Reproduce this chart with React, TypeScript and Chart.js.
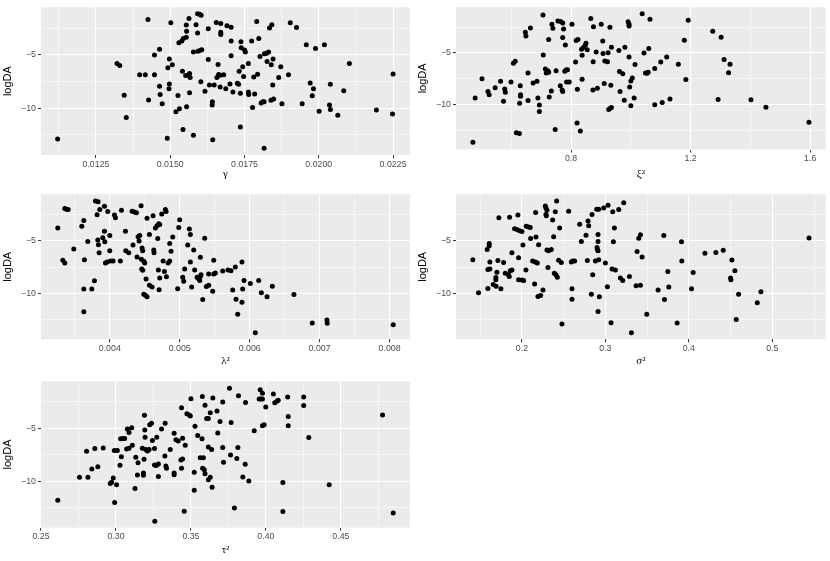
import React, { useEffect, useRef } from 'react';
import { Chart, registerables } from 'chart.js';

Chart.register(...registerables);

// ---------- shared y axis (logDA) ----------
const logDALimits = [-14.39, -0.55];
const yMajorTicks = [-10, -5];
const yTickLabels = ['−10', '−5'];
const yMinorTicks = [-12.5, -7.5, -2.5];

// ---------- panel 1: gamma ----------
const gammaX = [
  0.01121, 0.01321, 0.0133, 0.01345, 0.01352, 0.01425, 0.01397, 0.01416, 0.01447, 0.01427,
  0.01447, 0.01464, 0.01464, 0.01466, 0.01473, 0.0149, 0.01492, 0.01497, 0.01507, 0.01497,
  0.01496, 0.01502, 0.01519, 0.01531, 0.01526, 0.01529, 0.01539, 0.01544, 0.01541, 0.01543,
  0.01552, 0.01561, 0.01565, 0.01567, 0.01554, 0.01555, 0.01554, 0.01555, 0.01563, 0.01565,
  0.01578, 0.01578, 0.01593, 0.01601, 0.01606, 0.01587, 0.01592, 0.01599, 0.01604, 0.01592,
  0.01603, 0.01617, 0.01628, 0.01628, 0.01632, 0.01643,
  0.01648, 0.01641, 0.01642, 0.01655, 0.01661, 0.01657, 0.01663, 0.01668, 0.0168, 0.01668,
  0.0167, 0.0167, 0.0167, 0.01687, 0.01691, 0.01701, 0.01705, 0.01705, 0.01705, 0.01711,
  0.01726, 0.0173, 0.01732, 0.01736, 0.01736, 0.01738, 0.01739, 0.01744, 0.01747, 0.0175,
  0.01753, 0.01763, 0.01763, 0.01764, 0.01774, 0.01777, 0.01781, 0.01784, 0.01791, 0.01794,
  0.01798, 0.01802, 0.01806, 0.01811, 0.01816, 0.01816, 0.01817, 0.01824, 0.01831, 0.01826,
  0.01834, 0.01842, 0.01839, 0.01848, 0.0184, 0.01846, 0.01845, 0.01865, 0.01872, 0.01876,
  0.01898, 0.01904, 0.01925, 0.01944, 0.01958, 0.01971, 0.01978, 0.01982, 0.01989, 0.02001,
  0.02019, 0.02036, 0.02039, 0.02039, 0.02064, 0.02084, 0.02103, 0.02194, 0.02248, 0.0225,
];
const gammaY = [
  -12.88, -5.82, -6.0, -8.79, -10.88, -1.7, -6.88, -6.88, -6.88, -9.24,
  -5.03, -4.48, -7.94, -8.73, -9.6, -12.82, -6.21, -5.39, -5.94, -7.73,
  -8.18, -2.0, -10.33, -10.06, -8.82, -3.88, -3.7, -3.48, -6.55, -12.0,
  -6.94, -6.91, -6.76, -7.12, -3.36, -2.79, -2.21, -9.88, -1.61, -8.55,
  -12.55, -4.73, -4.67, -4.58, -4.52, -2.18, -1.15, -1.21, -1.3, -2.97,
  -7.52, -8.42, -2.55, -5.45, -7.82, -12.97,
  -7.82, -9.7, -9.39, -1.97, -5.91, -7.12, -6.85, -6.91, -6.88, -8.03,
  -2.06, -2.88, -3.09, -8.18, -2.27, -7.73, -2.42, -3.7, -5.09, -8.48,
  -7.67, -7.76, -6.55, -8.61, -11.76, -3.79, -4.33, -6.12, -7.03, -4.55,
  -4.73, -5.82, -8.48, -8.73, -3.7, -9.94, -7.09, -8.67, -1.88, -6.82,
  -3.48, -5.15, -9.52, -9.39, -9.39, -13.76, -4.91, -4.85, -4.73, -5.64,
  -2.48, -2.18, -9.27, -9.15, -5.94, -5.39, -7.82, -7.12, -6.12, -9.58,
  -6.88, -2.0, -2.45, -9.58, -4.06, -7.64, -8.85, -8.18, -4.42, -10.3,
  -4.06, -9.7, -10.12, -7.76, -10.67, -8.36, -5.82, -10.18, -10.55, -6.79,
];
const gammaMajorTicks = [0.0125, 0.015, 0.0175, 0.02, 0.0225];
const gammaTickLabels = ['0.0125', '0.0150', '0.0175', '0.0200', '0.0225'];
const gammaMinorTicks = [0.01125, 0.01375, 0.01625, 0.01875, 0.02125];
const gammaLimits = [0.01065, 0.02307];

// ---------- panel 2: xi^2 ----------
const xi2X = [
  0.4715, 0.479, 0.502, 0.522, 0.526, 0.546, 0.564, 0.574, 0.578, 0.58,
  0.599, 0.607, 0.613, 0.617, 0.627, 0.628, 0.63, 0.631, 0.631, 0.647,
  0.649, 0.656, 0.656, 0.664, 0.673, 0.686, 0.689, 0.694, 0.694, 0.706,
  0.707, 0.714, 0.717, 0.722, 0.725, 0.725, 0.727, 0.734, 0.736, 0.739,
  0.747, 0.75, 0.756, 0.765, 0.772, 0.764, 0.77, 0.772, 0.772, 0.775,
  0.781, 0.779, 0.783, 0.788, 0.785, 0.794, 0.803, 0.815, 0.817, 0.823,
  0.82, 0.821, 0.831, 0.835, 0.842, 0.848, 0.854, 0.837, 0.837, 0.85,
  0.866, 0.873, 0.888, 0.875, 0.874, 0.884, 0.901, 0.906, 0.907, 0.911,
  0.913, 0.922, 0.924, 0.926, 0.931, 0.935, 0.93, 0.933, 0.935, 0.96,
  0.962, 0.973, 0.964, 0.978, 0.98, 0.991, 0.994, 0.994, 0.994, 0.996,
  1.0, 1.005, 1.0, 1.011, 1.014, 1.038, 1.044, 1.049, 1.054, 1.058,
  1.06, 1.064, 1.08, 1.08, 1.1, 1.105, 1.12, 1.131, 1.159, 1.179,
  1.184, 1.192, 1.274, 1.292, 1.302, 1.312, 1.327, 1.332, 1.402, 1.452,
  1.596,
];
const xi2Y = [
  -13.69, -9.38, -7.5, -8.75, -9.06, -8.38, -7.75, -9.69, -8.5, -8.81,
  -7.81, -6.0, -5.81, -12.75, -12.84, -9.88, -8.19, -9.06, -9.22, -2.97,
  -3.34, -6.94, -9.63, -2.56, -7.91, -7.75, -9.38, -10.06, -10.69, -1.31,
  -5.19, -6.56, -6.94, -6.72, -6.88, -3.69, -9.28, -8.69, -2.19, -2.59,
  -12.44, -6.72, -1.88, -1.94, -2.09, -8.19, -8.59, -8.75, -3.5, -2.66,
  -4.22, -6.78, -6.66, -6.63, -7.81, -7.81, -2.19, -5.88, -3.78, -3.69,
  -11.81, -8.53, -12.59, -4.63, -4.44, -4.22, -4.69, -5.22, -7.56, -4.06,
  -1.63, -8.59, -8.44, -2.44, -5.84, -4.91, -2.19, -3.84, -5.06, -7.97,
  -5.78, -5.84, -4.97, -10.5, -10.38, -10.31, -2.5, -8.13, -4.44, -4.75,
  -6.81, -7.03, -8.75, -9.59, -4.44, -1.97, -2.19, -2.38, -5.38, -8.31,
  -7.72, -7.44, -10.13, -9.38, -6.13, -1.19, -5.0, -6.94, -6.97, -6.88,
  -4.56, -1.72, -6.5, -10.03, -5.88, -9.81, -5.38, -9.47, -6.09, -3.75,
  -7.59, -1.81, -2.88, -9.53, -3.47, -5.63, -6.91, -6.09, -9.56, -10.28,
  -11.75,
];
const xi2MajorTicks = [0.8, 1.2, 1.6];
const xi2TickLabels = ['0.8', '1.2', '1.6'];
const xi2MinorTicks = [0.6, 1.0, 1.4];
const xi2Limits = [0.415, 1.652];

// ---------- panel 3: lambda^2 ----------
const lambda2X = [
  0.003257, 0.003357, 0.003381, 0.003405, 0.003329, 0.003357, 0.003486, 0.0036, 0.003629, 0.003638,
  0.003629, 0.003743, 0.003629, 0.003686, 0.003781, 0.003795, 0.003833, 0.003819, 0.003829, 0.003838,
  0.003848, 0.003857, 0.0039, 0.003924, 0.003924, 0.003929, 0.003938, 0.003962, 0.003971, 0.004,
  0.004, 0.00401, 0.004048, 0.004067, 0.004081, 0.004152, 0.004167, 0.004224, 0.004229, 0.004271,
  0.004319, 0.004352, 0.004381, 0.004333, 0.00439, 0.004405, 0.004429, 0.004419, 0.004448, 0.004452,
  0.004486, 0.004462, 0.004471, 0.004457, 0.004471, 0.004486, 0.00451, 0.004533, 0.0045, 0.004519,
  0.004533, 0.004567, 0.004567, 0.004605, 0.004619, 0.004629, 0.004633, 0.004652, 0.004676, 0.0047,
  0.004714, 0.004686, 0.004695, 0.004705, 0.004714, 0.004743, 0.004762, 0.004781, 0.004795, 0.004805,
  0.00481, 0.004833, 0.004857, 0.004857, 0.004876, 0.0049, 0.004971, 0.004986, 0.005, 0.005043,
  0.005057, 0.005071, 0.005114, 0.005138, 0.005152, 0.005152, 0.005171, 0.0052, 0.005214, 0.005248,
  0.005271, 0.005286, 0.005295, 0.005305, 0.005295, 0.005329, 0.005357, 0.005381, 0.005414, 0.005414,
  0.005471, 0.005486, 0.005486, 0.005509, 0.005614, 0.00569, 0.005733, 0.005757, 0.005795, 0.005805,
  0.005829, 0.00589, 0.00589, 0.0059, 0.005919, 0.00601, 0.006081, 0.006129, 0.006167, 0.006248,
  0.006324, 0.006633, 0.006895, 0.007105, 0.007109, 0.008052,
];
const lambda2Y = [
  -3.77, -1.91, -1.98, -2.01, -6.85, -7.1, -5.77, -3.61, -3.06, -6.79,
  -9.6, -9.6, -11.76, -5.06, -8.8, -1.2, -1.27, -2.5, -4.91, -5.37,
  -6.14, -2.01, -4.69, -1.7, -4.07, -5.09, -7.1, -7.01, -2.19, -4.48,
  -5.93, -6.91, -6.91, -2.53, -2.78, -6.91, -2.07, -4.07, -5.93, -6.14,
  -2.16, -2.25, -2.31, -5.4, -6.54, -4.6, -4.48, -5.0, -1.64, -6.76,
  -6.94, -5.68, -5.93, -7.69, -7.81, -10.09, -10.19, -10.34, -7.1, -8.64,
  -2.84, -4.38, -9.23, -9.41, -2.59, -5.86, -6.14, -3.77, -3.55, -3.36,
  -3.43, -4.78, -7.78, -9.66, -8.55, -2.44, -6.91, -7.93, -2.01, -2.19,
  -8.43, -7.1, -6.91, -5.25, -5.99, -4.63, -9.57, -3.73, -2.99, -8.46,
  -8.86, -7.69, -5.4, -3.86, -4.38, -7.01, -9.41, -5.86, -7.78, -8.46,
  -8.61, -8.77, -8.4, -8.24, -6.57, -10.59, -4.75, -9.35, -9.23, -8.15,
  -9.81, -6.85, -8.15, -8.06, -7.87, -7.78, -7.84, -9.69, -7.5, -10.56,
  -12.01, -7.01, -10.86, -9.6, -8.77, -9.07, -13.77, -8.77, -9.94, -10.34,
  -9.32, -10.12, -12.84, -12.56, -12.87, -13.0,
];
const lambda2MajorTicks = [0.004, 0.005, 0.006, 0.007, 0.008];
const lambda2TickLabels = ['0.004', '0.005', '0.006', '0.007', '0.008'];
const lambda2MinorTicks = [0.0035, 0.0045, 0.0055, 0.0065, 0.0075];
const lambda2Limits = [0.003017, 0.008292];

// ---------- panel 4: sigma^2 ----------
const sigma2X = [
  0.1412, 0.148, 0.1584, 0.1608, 0.1608, 0.1592, 0.1616, 0.1592, 0.1616, 0.1656,
  0.169, 0.1688, 0.1688, 0.17, 0.1712, 0.1724, 0.1748, 0.178, 0.18, 0.184,
  0.1848, 0.186, 0.188, 0.1852, 0.188, 0.1912, 0.194, 0.1952, 0.196, 0.196,
  0.2, 0.202, 0.1972, 0.2, 0.2012, 0.2048, 0.2052, 0.208, 0.21, 0.2104,
  0.2128, 0.216, 0.2184, 0.2152, 0.2164, 0.2168, 0.2192, 0.2224, 0.22, 0.2252,
  0.228, 0.2288, 0.23, 0.2288, 0.2292, 0.23, 0.232, 0.2352, 0.2312, 0.2368,
  0.238, 0.2388, 0.2408, 0.2424, 0.24, 0.2416, 0.2452, 0.244, 0.2472, 0.248,
  0.256, 0.2592, 0.2608, 0.2632, 0.26, 0.26, 0.2692, 0.2712, 0.2768, 0.2784,
  0.2792, 0.28, 0.284, 0.2832, 0.2848, 0.288, 0.2896, 0.292, 0.29, 0.2904,
  0.2912, 0.2912, 0.2912, 0.292, 0.2912, 0.2928, 0.298, 0.3, 0.3024, 0.3032,
  0.3068, 0.308, 0.312, 0.3088, 0.3096, 0.3108, 0.316, 0.318, 0.3208, 0.322,
  0.3288, 0.3312, 0.3368, 0.342, 0.338, 0.34, 0.342, 0.344, 0.3496, 0.3632,
  0.37, 0.3708, 0.3748, 0.376, 0.386, 0.3912, 0.3916, 0.4032, 0.4052, 0.4192,
  0.4324, 0.4412, 0.45, 0.4504, 0.4516, 0.4552, 0.4568, 0.4596, 0.482, 0.4864,
  0.544,
];
const sigma2Y = [
  -6.79, -9.94, -5.83, -5.25, -5.46, -7.72, -7.69, -9.54, -7.01, -9.17,
  -9.32, -8.49, -8.7, -7.99, -6.88, -2.78, -9.57, -7.07, -8.09, -8.24,
  -8.4, -7.84, -7.78, -2.75, -6.14, -3.83, -3.92, -2.53, -6.6, -8.7,
  -8.73, -8.77, -4.04, -4.1, -5.4, -7.78, -3.61, -3.67, -3.73, -4.78,
  -6.91, -7.01, -7.1, -9.11, -2.28, -4.63, -10.31, -10.22, -5.37, -9.69,
  -1.67, -1.85, -2.07, -2.47, -2.59, -5.86, -5.93, -5.83, -7.53, -3.0,
  -4.6, -8.09, -8.24, -8.46, -2.22, -1.2, -3.77, -6.85, -7.07, -12.93,
  -2.16, -7.01, -6.91, -6.91, -9.57, -10.56, -3.4, -5.06, -4.47, -6.88,
  -3.09, -3.55, -2.47, -10.09, -8.24, -6.91, -1.98, -1.98, -5.62, -5.83,
  -5.93, -4.38, -5.06, -6.79, -11.73, -10.34, -1.85, -7.1, -9.38, -1.6,
  -12.81, -7.69, -7.78, -2.22, -5.09, -3.77, -2.01, -8.55, -8.77, -1.36,
  -8.4, -13.77, -9.29, -9.23, -6.02, -4.75, -4.41, -6.54, -12.01, -9.69,
  -4.48, -10.59, -7.93, -9.41, -12.84, -5.09, -6.91, -9.57, -8.02, -6.17,
  -6.11, -5.9, -8.55, -8.7, -6.82, -7.84, -12.5, -10.09, -10.9, -9.85,
  -4.72,
];
const sigma2MajorTicks = [0.2, 0.3, 0.4, 0.5];
const sigma2TickLabels = ['0.2', '0.3', '0.4', '0.5'];
const sigma2MinorTicks = [0.15, 0.25, 0.35, 0.45, 0.55];
const sigma2Limits = [0.121, 0.564];

// ---------- panel 5: tau^2 ----------
const tau2X = [
  0.2612, 0.2757, 0.2813, 0.2804, 0.2839, 0.2879, 0.2859, 0.2915, 0.2962, 0.2971,
  0.2982, 0.2991, 0.2989, 0.3009, 0.3004, 0.3027, 0.3031, 0.3049, 0.3058, 0.3036,
  0.3076, 0.3087, 0.3105, 0.3071, 0.3087, 0.3109, 0.3127, 0.3132, 0.3147, 0.3143,
  0.3176, 0.3187, 0.3183, 0.3183, 0.319, 0.3192, 0.3194, 0.3199, 0.321, 0.3221,
  0.3225, 0.3237, 0.3243, 0.3257, 0.3257, 0.3268, 0.3283, 0.3259, 0.3272, 0.3283,
  0.3304, 0.3328, 0.3326, 0.3333, 0.3337, 0.3362, 0.3388, 0.3388, 0.3388, 0.34,
  0.3415, 0.3433, 0.3444, 0.3437, 0.3437, 0.3444, 0.3455, 0.3462, 0.3473, 0.3489,
  0.3496, 0.35, 0.3522, 0.3522, 0.3527, 0.3545, 0.3562, 0.3583, 0.3574, 0.3578,
  0.3589, 0.3594, 0.3616, 0.3629, 0.3576, 0.3594, 0.3605, 0.3616, 0.3629, 0.3616,
  0.3638, 0.3641, 0.3646, 0.3674, 0.3679, 0.3694, 0.3712, 0.3712, 0.3717, 0.3757,
  0.3764, 0.3768, 0.379, 0.3806, 0.3813, 0.3817, 0.3846, 0.3862, 0.3864, 0.3886,
  0.3922, 0.3955, 0.3966, 0.3977, 0.3962, 0.3977, 0.3977, 0.3988, 0.3999, 0.405,
  0.4059, 0.4073, 0.4082, 0.4113, 0.4113, 0.4145, 0.4149, 0.4149, 0.4252, 0.4252,
  0.4286, 0.4422, 0.4778, 0.4849,
];
const tau2Y = [
  -11.79, -9.63, -9.63, -7.16, -8.83, -8.64, -6.91, -6.85, -10.22, -10.09,
  -9.69, -12.01, -7.1, -7.1, -10.34, -8.49, -5.99, -5.96, -5.96, -7.69,
  -5.06, -5.4, -4.94, -6.94, -6.88, -6.6, -10.68, -7.72, -8.24, -9.41,
  -6.88, -7.93, -9.23, -9.44, -3.77, -5.15, -5.83, -7.01, -7.13, -7.01,
  -4.66, -4.51, -6.14, -6.91, -8.46, -8.52, -8.36, -13.77, -5.83, -9.54,
  -5.06, -4.51, -7.62, -8.55, -8.77, -7.01, -5.46, -9.23, -9.38, -6.08,
  -6.2, -7.99, -7.9, -8.77, -3.06, -5.93, -12.84, -6.6, -3.61, -3.73,
  -3.83, -2.19, -9.14, -10.86, -4.81, -5.68, -7.78, -7.78, -5.99, -8.77,
  -8.92, -9.29, -9.85, -9.63, -1.99, -2.81, -4.07, -4.07, -3.52, -6.76,
  -7.01, -10.56, -2.13, -3.36, -5.43, -4.35, -2.5, -6.82, -8.21, -1.2,
  -7.53, -4.44, -12.53, -7.84, -6.82, -1.91, -9.6, -8.4, -2.56, -9.97,
  -5.22, -2.22, -2.22, -2.22, -1.36, -1.67, -4.75, -4.66, -2.99, -1.76,
  -2.59, -2.44, -2.35, -10.12, -12.87, -2.04, -3.89, -4.75, -2.04, -2.84,
  -5.86, -10.34, -3.73, -13.0,
];
const tau2MajorTicks = [0.25, 0.3, 0.35, 0.4, 0.45];
const tau2TickLabels = ['0.25', '0.30', '0.35', '0.40', '0.45'];
const tau2MinorTicks = [0.275, 0.325, 0.375, 0.425, 0.475];
const tau2Limits = [0.25, 0.4961];

// ---------- layout (pixels) ----------
type Panel = {
  key: string;
  xs: number[]; ys: number[];
  limits: number[]; majors: number[]; labels: string[]; minors: number[];
  title: string;
  box: { left: number; top: number; w: number; h: number };
  plot: { l: number; t: number; r: number; b: number };
  titleCenterY: number;
};

const panels: Panel[] = [
  { key: 'gamma', xs: gammaX, ys: gammaY, limits: gammaLimits, majors: gammaMajorTicks, labels: gammaTickLabels, minors: gammaMinorTicks, title: 'γ',
    box: { left: 0, top: 0, w: 415, h: 187 }, plot: { l: 41, t: 3.3, r: 410, b: 155 }, titleCenterY: 174.5 },
  { key: 'xi2', xs: xi2X, ys: xi2Y, limits: xi2Limits, majors: xi2MajorTicks, labels: xi2TickLabels, minors: xi2MinorTicks, title: 'ξ²',
    box: { left: 415, top: 0, w: 415, h: 187 }, plot: { l: 456, t: 3.3, r: 825.7, b: 149.5 }, titleCenterY: 174.5 },
  { key: 'lambda2', xs: lambda2X, ys: lambda2Y, limits: lambda2Limits, majors: lambda2MajorTicks, labels: lambda2TickLabels, minors: lambda2MinorTicks, title: 'λ²',
    box: { left: 0, top: 187, w: 415, h: 187 }, plot: { l: 41, t: 190.7, r: 410, b: 339.3 }, titleCenterY: 361 },
  { key: 'sigma2', xs: sigma2X, ys: sigma2Y, limits: sigma2Limits, majors: sigma2MajorTicks, labels: sigma2TickLabels, minors: sigma2MinorTicks, title: 'σ²',
    box: { left: 415, top: 187, w: 415, h: 187 }, plot: { l: 456, t: 190.7, r: 825.7, b: 339.3 }, titleCenterY: 361 },
  { key: 'tau2', xs: tau2X, ys: tau2Y, limits: tau2Limits, majors: tau2MajorTicks, labels: tau2TickLabels, minors: tau2MinorTicks, title: 'τ²',
    box: { left: 0, top: 374, w: 415, h: 187 }, plot: { l: 41, t: 378.3, r: 410, b: 527.7 }, titleCenterY: 550 },
];

const near = (arr: number[], v: number) => arr.findIndex((m) => Math.abs(m - v) < 1e-9);

const panelBg = {
  id: 'panelBg',
  beforeDraw(chart: any) {
    const { ctx, chartArea: a } = chart;
    ctx.save();
    ctx.fillStyle = '#EBEBEB';
    ctx.fillRect(a.left, a.top, a.right - a.left, a.bottom - a.top);
    ctx.restore();
  },
};

const TICK_FONT = { family: 'Liberation Sans, Arial, sans-serif', size: 8.8 };

function PanelChart({ p }: { p: Panel }) {
  const ref = useRef<HTMLCanvasElement | null>(null);
  useEffect(() => {
    if (!ref.current) return;
    const yAxisW = p.plot.l - p.box.left;
    const xAxisH = p.box.top + p.box.h - p.plot.b;
    const titleFontSize = 11;
    const titleHalf = (titleFontSize * 1.2) / 2;
    const chart = new Chart(ref.current, {
      type: 'scatter',
      data: {
        datasets: [
          {
            data: p.xs.map((x, i) => ({ x, y: p.ys[i] })),
            pointRadius: 2.5,
            pointHoverRadius: 2.5,
            pointBackgroundColor: '#000000',
            pointBorderWidth: 0,
            showLine: false,
          },
        ],
      },
      options: {
        responsive: false,
        maintainAspectRatio: false,
        animation: false,
        devicePixelRatio: 1,
        events: [],
        layout: {
          padding: {
            top: p.plot.t - p.box.top,
            right: p.box.left + p.box.w - p.plot.r,
            left: 0,
            bottom: 0,
          },
        },
        plugins: { legend: { display: false }, tooltip: { enabled: false } },
        scales: {
          x: {
            type: 'linear',
            min: p.limits[0],
            max: p.limits[1],
            afterBuildTicks: (s: any) => {
              s.ticks = [...p.majors, ...p.minors].sort((a, b) => a - b).map((v) => ({ value: v }));
            },
            afterFit: (s: any) => { s.height = xAxisH; },
            ticks: {
              autoSkip: false,
              maxRotation: 0,
              padding: 1,
              color: '#4D4D4D',
              font: TICK_FONT,
              callback: (v: any) => { const i = near(p.majors, Number(v)); return i >= 0 ? p.labels[i] : ''; },
            },
            grid: {
              color: '#FFFFFF',
              lineWidth: (c: any) => (c.tick && near(p.majors, c.tick.value) >= 0 ? 1.07 : 0.53),
              tickColor: (c: any) => (c.tick && near(p.majors, c.tick.value) >= 0 ? '#333333' : 'rgba(0,0,0,0)'),
              tickWidth: 1,
              tickLength: 3,
            },
            border: { display: false },
            title: {
              display: true,
              text: p.title,
              color: '#000000',
              font: { family: 'Liberation Serif, DejaVu Serif, serif', size: titleFontSize },
              padding: { top: 0, bottom: p.box.top + p.box.h - p.titleCenterY - titleHalf },
            },
          },
          y: {
            type: 'linear',
            position: 'left',
            min: logDALimits[0],
            max: logDALimits[1],
            afterBuildTicks: (s: any) => {
              s.ticks = [...yMajorTicks, ...yMinorTicks].sort((a, b) => a - b).map((v) => ({ value: v }));
            },
            afterFit: (s: any) => { s.width = yAxisW; },
            ticks: {
              autoSkip: false,
              padding: 2,
              color: '#4D4D4D',
              font: TICK_FONT,
              callback: (v: any) => { const i = near(yMajorTicks, Number(v)); return i >= 0 ? yTickLabels[i] : ''; },
            },
            grid: {
              color: '#FFFFFF',
              lineWidth: (c: any) => (c.tick && near(yMajorTicks, c.tick.value) >= 0 ? 1.07 : 0.53),
              tickColor: (c: any) => (c.tick && near(yMajorTicks, c.tick.value) >= 0 ? '#333333' : 'rgba(0,0,0,0)'),
              tickWidth: 1,
              tickLength: 3,
            },
            border: { display: false },
            title: {
              display: true,
              text: 'logDA',
              color: '#000000',
              font: { family: 'Liberation Sans, Arial, sans-serif', size: 11 },
              padding: { top: 0.9, bottom: 0 },
            },
          },
        },
      } as any,
      plugins: [panelBg],
    });
    return () => chart.destroy();
  }, [p]);

  return (
    <div style={{ position: 'absolute', left: p.box.left, top: p.box.top, width: p.box.w, height: p.box.h }}>
      <canvas ref={ref} width={p.box.w} height={p.box.h} style={{ width: p.box.w, height: p.box.h, display: 'block' }} />
    </div>
  );
}

export default function App() {
  return (
    <div style={{ position: 'fixed', left: 0, top: 0, width: 830, height: 561, background: '#FFFFFF', overflow: 'hidden' }}>
      {panels.map((p) => (
        <PanelChart key={p.key} p={p} />
      ))}
    </div>
  );
}
